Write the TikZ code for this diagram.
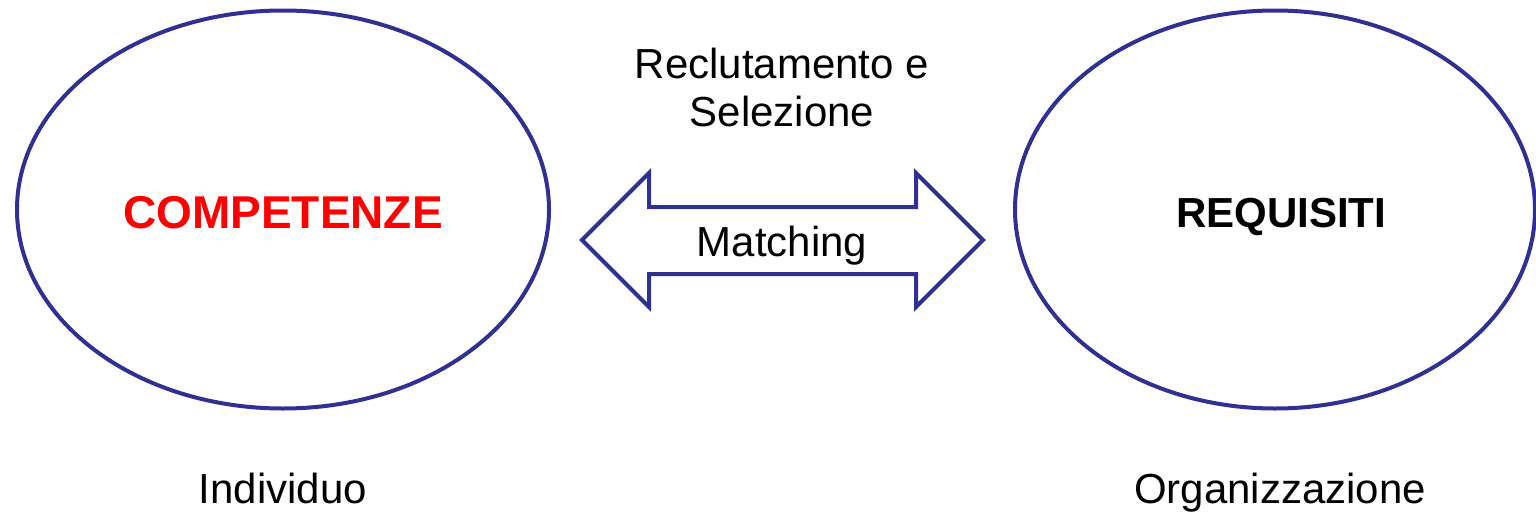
\documentclass[tikz,border=0pt]{standalone}
\usepackage{fontspec}
\setmainfont{Liberation Sans}
\usetikzlibrary{shapes.geometric}
\definecolor{outl}{RGB}{46,49,146}
\begin{document}
\begin{tikzpicture}[x=1pt,y=-1pt,
  oval/.style={draw=outl,line width=4pt,ellipse,inner sep=0pt,minimum width=#1,minimum height=398pt},
  lbl/.style={anchor=base,inner sep=0pt,font=\fontsize{42}{48}\selectfont},
  big/.style={anchor=base,inner sep=0pt,font=\fontsize{#1}{48}\selectfont\bfseries},
  arrowshape/.style={draw=outl,line width=4pt,line join=miter}]
\useasboundingbox (0,0) rectangle (1536,514);
\node[oval=532pt] (comp) at (283,209.5) {};
\node[oval=520pt] (req) at (1275,209.5) {};
\node[big=46,text=red] (tcomp) at (283,228) {COMPETENZE};
\node[big=42] (treq) at (1281,227) {REQUISITI};
\node[lbl] (ind) at (283,503) {Individuo};
\node[lbl] (org) at (1280,503) {Organizzazione};
\node[lbl] (rec) at (782,78) {Reclutamento e};
\node[lbl] (sel) at (782,126) {Selezione};
\draw[arrowshape] (582,240) -- (649,173) -- (649,207) -- (916,207) -- (916,173) -- (983,240)
  -- (916,307) -- (916,274) -- (649,274) -- (649,307) -- cycle;
\node[lbl] (match) at (782,256) {Matching};
\end{tikzpicture}
\end{document}
